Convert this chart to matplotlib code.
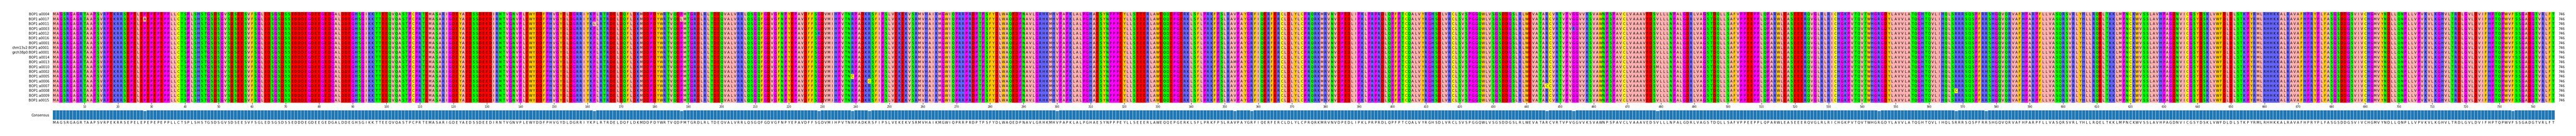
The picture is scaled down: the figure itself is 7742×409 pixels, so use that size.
#!/usr/bin/env python3
"""BOP1 protein alignment, Zappo colours, with consensus identity bars."""

import numpy as np
import matplotlib
matplotlib.use("Agg")
import matplotlib.pyplot as plt
from matplotlib.colors import ListedColormap

# ── Data ──────────────────────────────────────────────────────────────────────
ROW_NAMES = [
    "BOP1:a0004", "BOP1:a0017", "BOP1:a0011", "BOP1:a0003", "BOP1:a0012",
    "BOP1:a0016", "BOP1:a0001", "chm13v2:BOP1:a0001", "grch38p0:BOP1:a0001",
    "BOP1:a0014", "BOP1:a0013", "BOP1:a0010", "BOP1:a0002", "BOP1:a0005",
    "BOP1:a0006", "BOP1:a0007", "BOP1:a0008", "BOP1:a0009", "BOP1:a0015",
]

# consensus in pieces of 100
CONSENSUS = "".join([
    "MAGSRGAGRTAAPSVRPEKRRSEPELEPEPEPEPPLLCTSPLSHSTGSDSGVSDSEESVFSGLEDSGSDSSEDDDEGDEEGEDGALDDEGHSGIKKTTEE",
    "QVQASTPCPRTEMASARIGDEYAEDSSDEEDIRNTVGNVPLEWYDDFPHVGYDLDGRRIYKPLRTRDELDQFLDKMDDPDYWRTVQDPMTGRDLRLTDEQ",
    "VALVRRLQSGQFGDVGFNPYEPAVDFFSGDVMIHPVTNRPADKRSFIPSLVEKEKVSRMVHAIKMGWIQPRRPRDPTPSFYDLWAQEDPNAVLGRHKMHV",
    "PAPKLALPGHAESYNPPPEYLLSEEERLAWEQQEPGERKLSFLPRKFPSLRAVPAYGRFIQERFERCLDLYLCPRQRKMRVNVDPEDLIPKLPRPRDLQP",
    "FPTCQALVYRGHSDLVRCLSVSPGGQWLVSGSDDGSLRLWEVATARCVRTVPVGGVVKSVAWNPSPAVCLVAAAVEDSVLLLNPALGDRLVAGSTDQLLS",
    "AFVPPEEPPLQPARWLEASEEERQVGLRLRICHGKPVTQVTWHGRGDYLAVVLATQGHTQVLIHQLSRRRSQSPFRRSHGQVQRVAFHPARPFLLVASQR",
    "SVRLYHLLRQELTKKLMPNCKWVSSLAVHPAGDNVICGSYDSKLVWFDLDLSTKPYRMLRHHKKALRAVAFHPRYPLFASGSDDGSVIVCHGMVYNDLLQ",
    "NPLLVPVKVLKGHVLTRDLGVLDVIFHPTQPWVFSSGADGTVRLFT",
])

# residues that differ from the consensus (row index, 1-based column, residue)
VAR_ROWS = [1, 2, 1, 4, 13, 14, 5, 10, 18, 15, 3, 11, 17, 16, 12, 9]
VAR_COLS = [28, 162, 188, 229, 239, 244, 300, 353, 358, 446, 454, 479, 545, 568, 577, 734]
VAR_RESIDUES = list("ALLRCCIMHCRMHCHY")

# Zappo colour groups
ZAPPO_GROUPS = ["AILMV", "FWY", "RHK", "DE", "STNQ", "PG", "C"]
ZAPPO_COLORS = ["#FFAFAF", "#FFC800", "#6464FF", "#FF0000", "#00FF00", "#FF00FF", "#FFFF00"]

TICK_POS = list(range(10, 741, 10))
RIGHT_LABEL = "746"

# ── Layout (pixels in the output image) ───────────────────────────────────────
W, H = 7742, 409
DPI = 100
MSA_LEFT, MSA_RIGHT = 158, 7678
MSA_TOP, MSA_BOTTOM = 36, 309
CONS_TOP, CONS_BOTTOM = 331, 360
LETTER_Y = 369
FONT = 7.2


def px_axes(fig, left, right, top, bottom):
    return fig.add_axes([left / W, 1 - bottom / H, (right - left) / W, (bottom - top) / H])


# ── Build matrix ──────────────────────────────────────────────────────────────
seqs = [list(CONSENSUS) for _ in ROW_NAMES]
for r, c, aa in zip(VAR_ROWS, VAR_COLS, VAR_RESIDUES):
    seqs[r][c - 1] = aa

group_of = {aa: i for i, grp in enumerate(ZAPPO_GROUPS) for aa in grp}
codes = np.array([[group_of[aa] for aa in s] for s in seqs])
n_rows, n_cols = codes.shape

identity = (np.array(seqs) == np.array(list(CONSENSUS))).mean(axis=0)

# ── Plot ──────────────────────────────────────────────────────────────────────
fig = plt.figure(figsize=(W / DPI, H / DPI), dpi=DPI)

ax = px_axes(fig, MSA_LEFT, MSA_RIGHT, MSA_TOP, MSA_BOTTOM)
ax.imshow(codes, cmap=ListedColormap(ZAPPO_COLORS), vmin=-0.5, vmax=6.5, aspect="auto",
          interpolation="nearest", extent=(0, n_cols, n_rows, 0))
for r, s in enumerate(seqs):
    for c, aa in enumerate(s):
        ax.text(c + 0.5, r + 0.52, aa, ha="center", va="center", fontsize=FONT, clip_on=True)
    ax.text(-1.0, r + 0.52, ROW_NAMES[r], ha="right", va="center", fontsize=FONT)
    ax.text(n_cols + 1.1, r + 0.52, RIGHT_LABEL, ha="left", va="center", fontsize=FONT)

ax.set_xlim(0, n_cols)
ax.set_ylim(n_rows, 0)
ax.set_yticks([])
ax.set_xticks([p - 0.5 for p in TICK_POS])
ax.set_xticklabels([str(p) for p in TICK_POS], fontsize=5.6)
ax.tick_params(axis="x", length=3.4, width=0.7, pad=2.5)
for side in ax.spines.values():
    side.set_visible(False)

# consensus identity bars
ax2 = px_axes(fig, MSA_LEFT, MSA_RIGHT, CONS_TOP, CONS_BOTTOM)
for i, v in enumerate(identity):
    ax2.bar(i + 0.5, v, width=1.0, color="#1f77b4", alpha=float(v) ** 2,
            edgecolor="white", linewidth=0.5)
ax2.set_xlim(0, n_cols)
ax2.set_ylim(0, 1)
ax2.axis("off")
ax2.text(-1.0, 0.44, "Consensus", ha="right", va="center", fontsize=FONT)

# consensus letters
ax3 = px_axes(fig, MSA_LEFT, MSA_RIGHT, LETTER_Y - 7, LETTER_Y + 7)
ax3.set_xlim(0, n_cols)
ax3.set_ylim(0, 1)
ax3.axis("off")
for c, aa in enumerate(CONSENSUS):
    ax3.text(c + 0.5, 0.5, aa, ha="center", va="center", fontsize=FONT)

fig.savefig("out.png", dpi=DPI)
